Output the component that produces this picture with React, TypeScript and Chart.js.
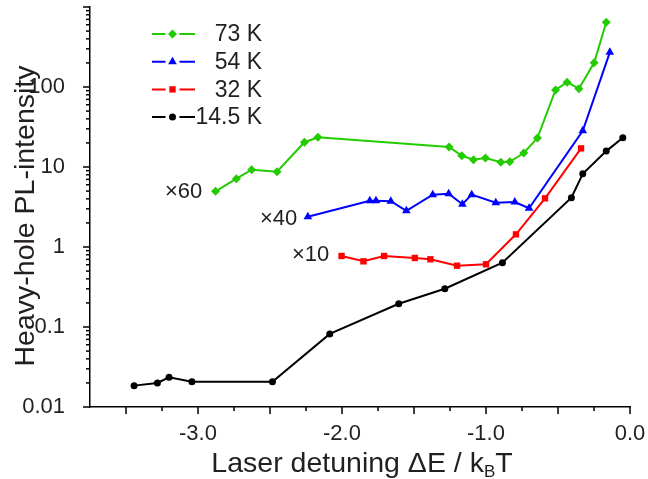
import React, { useEffect, useRef } from 'react';
import { Chart, registerables } from 'chart.js';

Chart.register(...registerables);

// ---- data ----
const x73 = [-2.878, -2.733, -2.627, -2.451, -2.261, -2.167, -1.256, -1.168, -1.087, -1.004, -0.897, -0.835, -0.738, -0.643, -0.517, -0.437, -0.355, -0.249, -0.165];
const y73 = [4.97, 7.14, 9.25, 8.73, 20.4, 23.5, 17.8, 13.8, 12.3, 12.96, 11.5, 11.6, 14.96, 23.0, 91.7, 115, 95.3, 201, 644];

const x54 = [-2.237, -1.807, -1.764, -1.661, -1.553, -1.37, -1.259, -1.164, -1.099, -0.932, -0.8, -0.701, -0.328, -0.14];
const y54 = [2.39, 3.79, 3.79, 3.73, 2.84, 4.51, 4.64, 3.42, 4.51, 3.58, 3.65, 3.05, 28.4, 271];

const x32 = [-2.003, -1.851, -1.708, -1.494, -1.386, -1.201, -1.0, -0.792, -0.59, -0.34];
const y32 = [0.772, 0.662, 0.772, 0.729, 0.702, 0.584, 0.608, 1.44, 4.06, 17.1];

const x14 = [-3.444, -3.282, -3.201, -3.042, -2.483, -2.085, -1.606, -1.286, -0.886, -0.407, -0.328, -0.165, -0.05];
const y14 = [0.0185, 0.02, 0.0235, 0.0207, 0.0207, 0.082, 0.195, 0.301, 0.637, 4.13, 8.24, 15.8, 23.2];

const seriesLabels = ['73 K', '54 K', '32 K', '14.5 K'];
const seriesColors = ['#22cc00', '#0000ff', '#ff0000', '#000000'];
const seriesMarkers = ['rectRot', 'triangle', 'rect', 'circle'];
const markerRadius = [4.5, 5, 4.5, 3.5];

const xTickValues = [-3, -2, -1, 0];
const yTickValues = [0.01, 0.1, 1, 10, 100];
const scaleFactors = ['×60', '×40', '×10'];
const scaleFactorPos = [
  [165, 192],
  [260, 219],
  [292, 255],
];

const xTitleMain = 'Laser detuning ΔE / k';
const xTitleSub = 'B';
const xTitleEnd = 'T';
const yTitle = 'Heavy-hole PL-intensity';

const FONT = '"Liberation Sans", Arial, Helvetica, sans-serif';
const TEXT = '#231f20';

function drawMarker(ctx: CanvasRenderingContext2D, style: string, x: number, y: number, r: number, color: string) {
  ctx.save();
  ctx.fillStyle = color;
  ctx.beginPath();
  if (style === 'rectRot') {
    ctx.moveTo(x, y - r);
    ctx.lineTo(x + r, y);
    ctx.lineTo(x, y + r);
    ctx.lineTo(x - r, y);
    ctx.closePath();
  } else if (style === 'triangle') {
    ctx.moveTo(x, y - r);
    ctx.lineTo(x + r * 0.866, y + r * 0.5);
    ctx.lineTo(x - r * 0.866, y + r * 0.5);
    ctx.closePath();
  } else if (style === 'rect') {
    const s = r * Math.SQRT1_2;
    ctx.rect(x - s, y - s, 2 * s, 2 * s);
  } else {
    ctx.arc(x, y, r, 0, Math.PI * 2);
  }
  ctx.fill();
  ctx.restore();
}

const decorPlugin = {
  id: 'decor',
  afterDraw(chart: any) {
    const ctx: CanvasRenderingContext2D = chart.ctx;
    const xs = chart.scales.x;
    const ys = chart.scales.y;
    const area = chart.chartArea;
    ctx.save();
    ctx.strokeStyle = '#000';
    ctx.lineWidth = 1.5;
    // y ticks (log, major + minor)
    for (let d = -2; d <= 3; d++) {
      for (let m = 1; m <= 9; m++) {
        const v = m * Math.pow(10, d);
        if (v > 1000.0001) break;
        const py = ys.getPixelForValue(v);
        const len = m === 1 ? 7 : 4;
        ctx.beginPath();
        ctx.moveTo(area.left - len, py);
        ctx.lineTo(area.left, py);
        ctx.stroke();
      }
    }
    // x ticks
    for (let i = 0; i <= 14; i++) {
      const v = -3.5 + i * 0.25;
      const px = xs.getPixelForValue(v);
      const len = i % 2 === 0 ? 7 : 4;
      ctx.beginPath();
      ctx.moveTo(px, area.bottom);
      ctx.lineTo(px, area.bottom + len);
      ctx.stroke();
    }

    // legend
    const lx0 = 152;
    const lx1 = 195;
    const mx = 172.5;
    for (let i = 0; i < seriesLabels.length; i++) {
      const ly = 34 + i * 27.7;
      ctx.strokeStyle = seriesColors[i];
      ctx.lineWidth = 2;
      ctx.beginPath();
      ctx.moveTo(lx0, ly);
      ctx.lineTo(mx - 7, ly);
      ctx.moveTo(mx + 7, ly);
      ctx.lineTo(lx1, ly);
      ctx.stroke();
      drawMarker(ctx, seriesMarkers[i], mx, ly, markerRadius[i], seriesColors[i]);
      ctx.fillStyle = TEXT;
      ctx.font = `23px ${FONT}`;
      ctx.textAlign = 'right';
      ctx.textBaseline = 'middle';
      ctx.fillText(seriesLabels[i], 262, ly + 1);
    }

    // scale factors
    ctx.font = `22px ${FONT}`;
    ctx.textAlign = 'left';
    ctx.textBaseline = 'middle';
    ctx.fillStyle = TEXT;
    for (let i = 0; i < scaleFactors.length; i++) {
      ctx.fillText(scaleFactors[i], scaleFactorPos[i][0], scaleFactorPos[i][1]);
    }

    // x title with subscript
    const mainFont = `28.5px ${FONT}`;
    const subFont = `17px ${FONT}`;
    ctx.font = mainFont;
    const w1 = ctx.measureText(xTitleMain).width;
    const w3 = ctx.measureText(xTitleEnd).width;
    ctx.font = subFont;
    const w2 = ctx.measureText(xTitleSub).width;
    const total = w1 + w2 + w3;
    let cx = 362 - total / 2;
    const base = 472;
    ctx.textAlign = 'left';
    ctx.textBaseline = 'alphabetic';
    ctx.font = mainFont;
    ctx.fillText(xTitleMain, cx, base);
    cx += w1;
    ctx.font = subFont;
    ctx.fillText(xTitleSub, cx, base + 5);
    cx += w2;
    ctx.font = mainFont;
    ctx.fillText(xTitleEnd, cx, base);

    // y title
    ctx.save();
    ctx.translate(34, 216);
    ctx.rotate(-Math.PI / 2);
    ctx.font = `28.5px ${FONT}`;
    ctx.textAlign = 'center';
    ctx.textBaseline = 'alphabetic';
    ctx.fillText(yTitle, 0, 0);
    ctx.restore();

    ctx.restore();
  },
};

function makeData(xs: number[], ys: number[]) {
  return xs.map((x, i) => ({ x, y: ys[i] }));
}

export default function App() {
  const ref = useRef<HTMLCanvasElement | null>(null);
  useEffect(() => {
    if (!ref.current) return;
    const seriesX = [x73, x54, x32, x14];
    const seriesY = [y73, y54, y32, y14];
    const datasets = seriesLabels.map((label, i) => ({
      label,
      data: makeData(seriesX[i], seriesY[i]),
      showLine: true,
      borderColor: seriesColors[i],
      backgroundColor: seriesColors[i],
      borderWidth: 2,
      pointStyle: seriesMarkers[i] as any,
      pointRadius: markerRadius[i],
      pointBorderWidth: 0,
      pointBackgroundColor: seriesColors[i],
      tension: 0,
    }));
    const chart = new Chart(ref.current, {
      type: 'scatter',
      data: { datasets },
      plugins: [decorPlugin],
      options: {
        animation: false,
        responsive: true,
        maintainAspectRatio: false,
        layout: { padding: { left: 0, right: 18, top: 7, bottom: 0 } },
        plugins: { legend: { display: false }, tooltip: { enabled: false } },
        scales: {
          x: {
            type: 'linear',
            min: -3.75,
            max: 0,
            grid: { display: false },
            border: { display: true, color: '#000', width: 1.5 },
            ticks: {
              color: TEXT,
              font: { family: FONT, size: 22 },
              padding: 6,
              maxRotation: 0,
              autoSkip: false,
              callback: (v: any) => Number(v).toFixed(1),
            },
            afterBuildTicks: (s: any) => {
              s.ticks = xTickValues.map((v) => ({ value: v }));
            },
            afterFit: (s: any) => {
              s.height = 72;
              s.paddingLeft = 0;
              s.paddingRight = 0;
            },
          },
          y: {
            type: 'logarithmic',
            min: 0.01,
            max: 1000,
            grid: { display: false },
            border: { display: true, color: '#000', width: 1.5 },
            ticks: {
              color: TEXT,
              font: { family: FONT, size: 22 },
              padding: 17,
              autoSkip: false,
              callback: (v: any) => String(Number(v)),
            },
            afterBuildTicks: (s: any) => {
              s.ticks = yTickValues.map((v) => ({ value: v }));
            },
            afterFit: (s: any) => {
              s.width = 90;
              s.paddingTop = 0;
              s.paddingBottom = 0;
            },
          },
        },
      },
    });
    return () => chart.destroy();
  }, []);
  return (
    <div style={{ position: 'fixed', left: 0, top: 0, width: 648, height: 479, background: '#fff' }}>
      <canvas ref={ref} />
    </div>
  );
}
